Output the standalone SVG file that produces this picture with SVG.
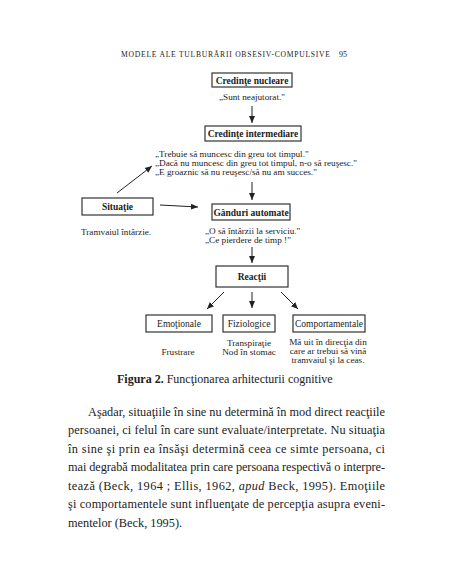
<svg xmlns="http://www.w3.org/2000/svg" width="452" height="584" viewBox="0 0 452 584">
<defs>
<marker id="ah" markerWidth="8" markerHeight="8" refX="7" refY="4" orient="auto" markerUnits="userSpaceOnUse">
<path d="M0,1 L7,4 L0,7 Z" fill="#222"/>
</marker>
<style>
text{font-family:"Liberation Serif","Times New Roman",serif;fill:#222}
.box{fill:#fff;stroke:#333;stroke-width:1.2}
.lb{font-size:9.5px;font-weight:bold;text-anchor:middle}
.lr{font-size:9.5px;text-anchor:middle}
.q{font-size:9.2px}
.c{font-size:9.2px;text-anchor:middle}
.p{font-size:12.3px}
.con{stroke:#222;stroke-width:1;fill:none;marker-end:url(#ah)}
</style>
</defs>
<rect width="452" height="584" fill="#fff"/>
<text x="121" y="57" style="font-size:7.6px" textLength="209">MODELE ALE TULBURĂRII OBSESIV-COMPULSIVE</text>
<text x="339" y="57" style="font-size:8px">95</text>

<g id="connectors">
<line class="con" x1="252" y1="106" x2="252" y2="123"/>
<line class="con" x1="117" y1="193" x2="152" y2="166"/>
<line class="con" x1="160" y1="205" x2="198" y2="207"/>
<line class="con" x1="252" y1="182" x2="252" y2="200"/>
<line class="con" x1="252" y1="247" x2="252" y2="263"/>
<line class="con" x1="224" y1="292" x2="207" y2="309"/>
<line class="con" x1="252" y1="292" x2="252" y2="308"/>
<line class="con" x1="281" y1="292" x2="298" y2="309"/>
</g>

<g id="credinte-nucleare">
<rect class="box" x="212" y="73" width="80" height="14"/>
<text class="lb" x="252" y="83.5">Credinţe nucleare</text>
<text class="c" x="252" y="100">„Sunt neajutorat."</text>
</g>

<g id="credinte-intermediare">
<rect class="box" x="205" y="126" width="96" height="15"/>
<text class="lb" x="253" y="137">Credinţe intermediare</text>
<text class="q" x="155" y="157">„Trebuie să muncesc din greu tot timpul."</text>
<text class="q" x="155" y="166">„Dacă nu muncesc din greu tot timpul, n-o să reuşesc."</text>
<text class="q" x="155" y="175">„E groaznic să nu reuşesc/să nu am succes."</text>
</g>

<g id="situatie">
<rect class="box" x="82" y="198" width="71" height="17"/>
<text class="lb" x="117.5" y="210">Situaţie</text>
<text class="q" x="81" y="235">Tramvaiul întârzie.</text>
</g>

<g id="ganduri-automate">
<rect class="box" x="212" y="204" width="78" height="16"/>
<text class="lb" x="251" y="215.5">Gânduri automate</text>
<text class="q" x="205" y="234">„O să întârzii la serviciu."</text>
<text class="q" x="205" y="243">„Ce pierdere de timp !"</text>
</g>

<g id="reactii">
<rect class="box" x="216" y="266" width="72" height="21"/>
<text class="lb" x="252" y="279.5">Reacţii</text>
</g>

<g id="emotionale">
<rect class="box" x="146" y="315" width="66" height="17"/>
<text class="lr" x="179" y="327">Emoţionale</text>
<text class="c" x="178" y="355">Frustrare</text>
</g>

<g id="fiziologice">
<rect class="box" x="223" y="315" width="52" height="17"/>
<text class="lr" x="249" y="327">Fiziologice</text>
<text class="c" x="249" y="346">Transpiraţie</text>
<text class="c" x="249" y="355">Nod în stomac</text>
</g>

<g id="comportamentale">
<rect class="box" x="293" y="315" width="72" height="17"/>
<text class="lr" x="329" y="327">Comportamentale</text>
<text class="c" x="328" y="345">Mă uit în direcţia din</text>
<text class="c" x="328" y="354">care ar trebui să vină</text>
<text class="c" x="328" y="363">tramvaiul şi la ceas.</text>
</g>

<text x="117" y="383" style="font-size:12px"><tspan font-weight="bold">Figura 2.</tspan> Funcţionarea arhitecturii cognitive</text>

<text class="p" x="88" y="416" textLength="297" lengthAdjust="spacing">Aşadar, situaţiile în sine nu determină în mod direct reacţiile</text>
<text class="p" x="68" y="434" textLength="317" lengthAdjust="spacing">persoanei, ci felul în care sunt evaluate/interpretate. Nu situaţia</text>
<text class="p" x="68" y="453" textLength="317" lengthAdjust="spacing">în sine şi prin ea însăşi determină ceea ce simte persoana, ci</text>
<text class="p" x="68" y="471" textLength="317" lengthAdjust="spacing">mai degrabă modalitatea prin care persoana respectivă o interpre-</text>
<text class="p" x="68" y="490" textLength="317" lengthAdjust="spacing">tează (Beck, 1964 ; Ellis, 1962, <tspan font-style="italic">apud</tspan> Beck, 1995). Emoţiile</text>
<text class="p" x="68" y="508" textLength="317" lengthAdjust="spacing">şi comportamentele sunt influenţate de percepţia asupra eveni-</text>
<text class="p" x="68" y="527">mentelor (Beck, 1995).</text>
</svg>
